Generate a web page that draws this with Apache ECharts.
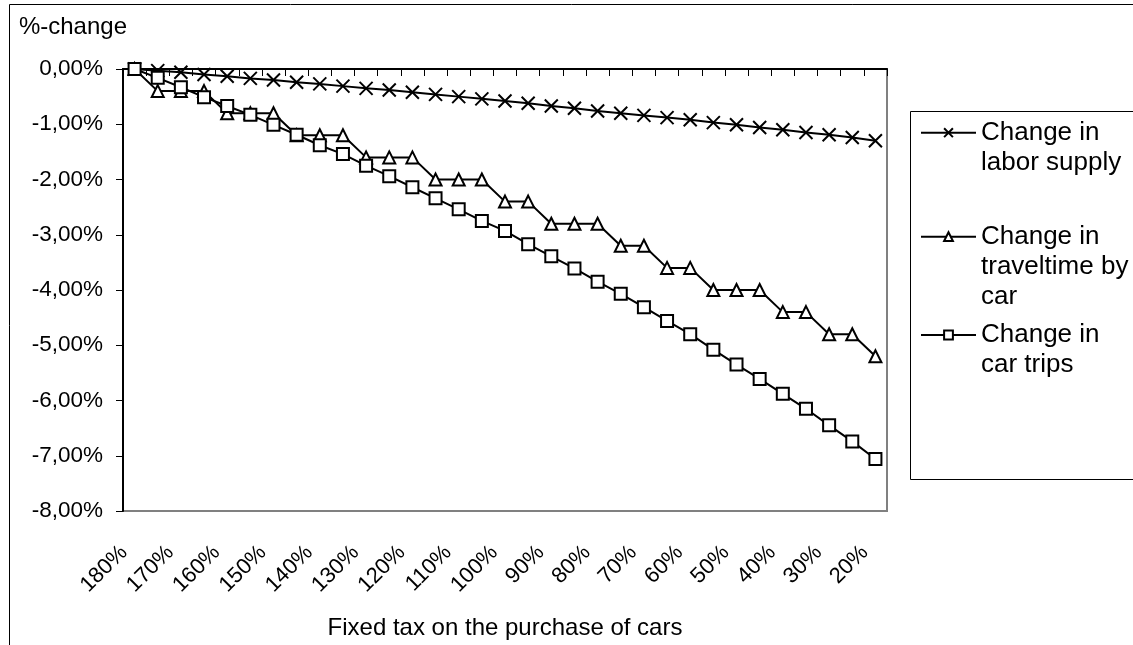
<!DOCTYPE html>
<html>
<head>
<meta charset="utf-8">
<script src="https://cdn.jsdelivr.net/npm/echarts@6/dist/echarts.min.js"></script>
<style>
html,body{margin:0;padding:0;background:#fff;}
#chart{width:1133px;height:645px;}
</style>
</head>
<body>
<div id="chart"></div>
<script>
var categories = ['180%','175%','170%','165%','160%','155%','150%','145%','140%','135%','130%','125%','120%','115%','110%','105%','100%','95%','90%','85%','80%','75%','70%','65%','60%','55%','50%','45%','40%','35%','30%','25%','20%'];
var laborSupply = [0, -0.03, -0.06, -0.10, -0.13, -0.17, -0.20, -0.24, -0.27, -0.31, -0.35, -0.38, -0.42, -0.46, -0.50, -0.54, -0.58, -0.62, -0.67, -0.71, -0.76, -0.80, -0.84, -0.88, -0.92, -0.97, -1.01, -1.06, -1.10, -1.15, -1.19, -1.24, -1.30];
var travelTime = [0, -0.4, -0.4, -0.4, -0.8, -0.8, -0.8, -1.2, -1.2, -1.2, -1.6, -1.6, -1.6, -2.0, -2.0, -2.0, -2.4, -2.4, -2.8, -2.8, -2.8, -3.2, -3.2, -3.6, -3.6, -4.0, -4.0, -4.0, -4.4, -4.4, -4.8, -4.8, -5.2];
var carTrips = [0, -0.16, -0.33, -0.51, -0.67, -0.83, -1.01, -1.19, -1.38, -1.54, -1.75, -1.94, -2.14, -2.34, -2.54, -2.75, -2.93, -3.17, -3.39, -3.61, -3.85, -4.07, -4.31, -4.56, -4.80, -5.08, -5.35, -5.61, -5.88, -6.15, -6.45, -6.74, -7.06];
var seriesNames = ['Change in labor supply', 'Change in traveltime by car', 'Change in car trips'];
var legendLines = [['Change in', 'labor supply'], ['Change in', 'traveltime by', 'car'], ['Change in', 'car trips']];
var yAxisTitle = '%-change';
var xAxisTitle = 'Fixed tax on the purchase of cars';

var FONT = 'Liberation Sans, Arial, sans-serif';
var chart = echarts.init(document.getElementById('chart'), null, {renderer: 'canvas'});

function lineSeries(name, data, symbol, size) {
  return {
    name: name, type: 'line', data: data,
    symbol: symbol, symbolSize: size, showSymbol: true,
    lineStyle: {color: '#000', width: 2},
    itemStyle: {color: '#fff', borderColor: '#000', borderWidth: 2},
    emphasis: {disabled: true},
    animation: false
  };
}
var LH = 30;
// blank leading lines so the first text line sits level with the legend icon
function legendFor(i, iconY) {
  var lines = legendLines[i];
  var n = lines.length;
  var padded = [];
  for (var k = 0; k < n - 1; k++) padded.push(' ');
  var text = padded.concat(lines).join('\n');
  var blockH = (2 * n - 1) * LH;
  return {
    data: [seriesNames[i]],
    left: 920, top: iconY - blockH / 2, padding: 0,
    orient: 'vertical',
    itemWidth: 55, itemHeight: 11,
    selectedMode: false,
    formatter: function () { return text; },
    textStyle: {fontFamily: FONT, fontSize: 26, color: '#000', lineHeight: LH}
  };
}

var option = {
  animation: false,
  backgroundColor: '#fff',
  graphic: [
    {type: 'rect', silent: true, z: -1, shape: {x: 9.5, y: 4.5, width: 1200, height: 700}, style: {fill: 'none', stroke: '#000', lineWidth: 1}},
    {type: 'rect', silent: true, z: -1, shape: {x: 910.5, y: 111.5, width: 300, height: 368}, style: {fill: 'none', stroke: '#000', lineWidth: 1}}
  ],
  grid: {left: 123, right: 246, top: 69, bottom: 127, show: true, borderColor: '#808080', borderWidth: 2, backgroundColor: 'transparent'},
  legend: [
    legendFor(0, 132.7),
    legendFor(1, 236.7),
    legendFor(2, 335)
  ],
  xAxis: {
    type: 'category', data: categories, boundaryGap: true,
    name: xAxisTitle, nameLocation: 'middle', nameGap: 105,
    nameTextStyle: {fontFamily: FONT, fontSize: 24, color: '#000'},
    axisLine: {show: true, lineStyle: {color: '#000', width: 2}},
    axisTick: {show: true, interval: 0, length: 7, lineStyle: {color: '#000', width: 1}},
    axisLabel: {interval: 1, rotate: 45, margin: 43, verticalAlign: 'bottom', padding: [0, 4, 0, 0], fontFamily: FONT, fontSize: 22, color: '#000'},
    splitLine: {show: false}
  },
  yAxis: {
    type: 'value', min: -8, max: 0, interval: 1,
    name: yAxisTitle, nameLocation: 'end', nameGap: 30,
    nameTextStyle: {fontFamily: FONT, fontSize: 24, color: '#000', align: 'right', padding: [0, -4, 0, 0]},
    axisLine: {show: true, lineStyle: {color: '#000', width: 2}},
    axisTick: {show: true, length: 7, lineStyle: {color: '#000', width: 1}},
    axisLabel: {margin: 20, fontFamily: FONT, fontSize: 22.5, color: '#000',
      formatter: function (v) { return (Math.abs(v) < 1e-9 ? 0 : v).toFixed(2).replace('.', ',') + '%'; }},
    splitLine: {show: false}
  },
  series: [
    lineSeries(seriesNames[0], laborSupply, 'path://M0,0L10,10M10,0L0,10', 13),
    lineSeries(seriesNames[1], travelTime, 'triangle', 12),
    lineSeries(seriesNames[2], carTrips, 'rect', 12)
  ]
};
chart.setOption(option);
</script>
</body>
</html>
